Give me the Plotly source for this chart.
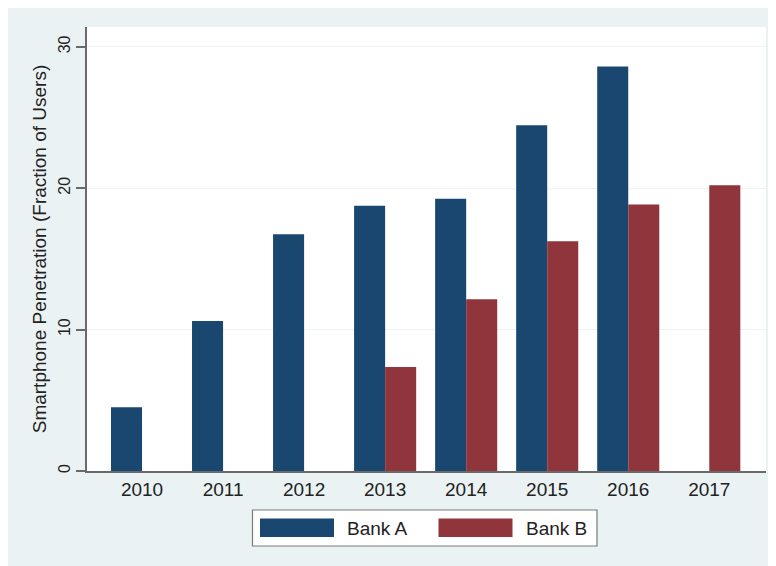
import plotly.graph_objects as go

# ---- data ----
years_a = [2010, 2011, 2012, 2013, 2014, 2015, 2016]
bank_a = [4.5, 10.6, 16.75, 18.75, 19.25, 24.45, 28.6]
years_b = [2013, 2014, 2015, 2016, 2017]
bank_b = [7.35, 12.15, 16.25, 18.85, 20.2]
year_ticks = [2010, 2011, 2012, 2013, 2014, 2015, 2016, 2017]
year_labels = [str(y) for y in year_ticks]
y_ticks = [0, 10, 20, 30]
series_names = ["Bank A", "Bank B"]

# ---- style ----
W, H = 776, 566
OFF = 8  # page body margin
ML, MR, MT, MB = 79, 18, 19, 103
BLUE = "#1a476f"
RED = "#90353b"
BG = "#EAF2F3"
AXIS = "#6a6a6a"
FONT = "Liberation Sans, Arial, Helvetica, sans-serif"

PW = W - ML - MR
PH = H - MT - MB


def px_x(p):
    return (p - OFF - ML) / PW


def px_y(q):
    return (H - MB - (q - OFF)) / PH


fig = go.Figure()
fig.add_trace(go.Bar(x=years_a, y=bank_a, name=series_names[0],
                     marker=dict(color=BLUE, line=dict(width=0))))
fig.add_trace(go.Bar(x=years_b, y=bank_b, name=series_names[1],
                     marker=dict(color=RED, line=dict(width=0))))

shapes = [
    # legend box
    dict(type="rect", xref="paper", yref="paper", x0=px_x(252.5), x1=px_x(597),
         y0=px_y(546), y1=px_y(510), fillcolor="white",
         line=dict(color="#7a7a7a", width=1.2)),
    dict(type="rect", xref="paper", yref="paper", x0=px_x(260), x1=px_x(334),
         y0=px_y(537), y1=px_y(518.5), fillcolor=BLUE, line=dict(width=0)),
    dict(type="rect", xref="paper", yref="paper", x0=px_x(438.5), x1=px_x(512.5),
         y0=px_y(537), y1=px_y(518.5), fillcolor=RED, line=dict(width=0)),
]

annotations = [
    dict(xref="paper", yref="paper", x=px_x(345), y=px_y(528), text=series_names[0],
         showarrow=False, xanchor="left", yanchor="middle",
         font=dict(family=FONT, size=19, color="#222")),
    dict(xref="paper", yref="paper", x=px_x(524), y=px_y(528), text=series_names[1],
         showarrow=False, xanchor="left", yanchor="middle",
         font=dict(family=FONT, size=19, color="#222")),
]

fig.update_layout(
    width=W, height=H,
    margin=dict(l=ML, r=MR, t=MT, b=MB, pad=0),
    paper_bgcolor=BG, plot_bgcolor="white",
    barmode="group", bargap=0.234, bargroupgap=0,
    showlegend=False,
    font=dict(family=FONT, color="#222"),
    shapes=shapes, annotations=annotations,
    xaxis=dict(
        range=[2009.321, 2017.70], tickmode="array", tickvals=year_ticks,
        ticktext=year_labels, showline=True, linecolor=AXIS, linewidth=1.5,
        showgrid=False, zeroline=False, ticks="",
        tickfont=dict(size=19, color="#222"),
    ),
    yaxis=dict(
        range=[0, 31.4], tickmode="array", tickvals=y_ticks,
        showline=True, linecolor=AXIS, linewidth=1.5,
        showgrid=True, gridcolor="#EDF2F3", gridwidth=1, zeroline=False,
        ticks="outside", ticklen=9, tickcolor=AXIS, tickwidth=1.5,
        tickangle=-90, tickfont=dict(size=16, color="#222"),
        title=dict(text="Smartphone Penetration (Fraction of Users)",
                   font=dict(size=19, color="#222"), standoff=4),
    ),
)

fig.write_html("out.html")
